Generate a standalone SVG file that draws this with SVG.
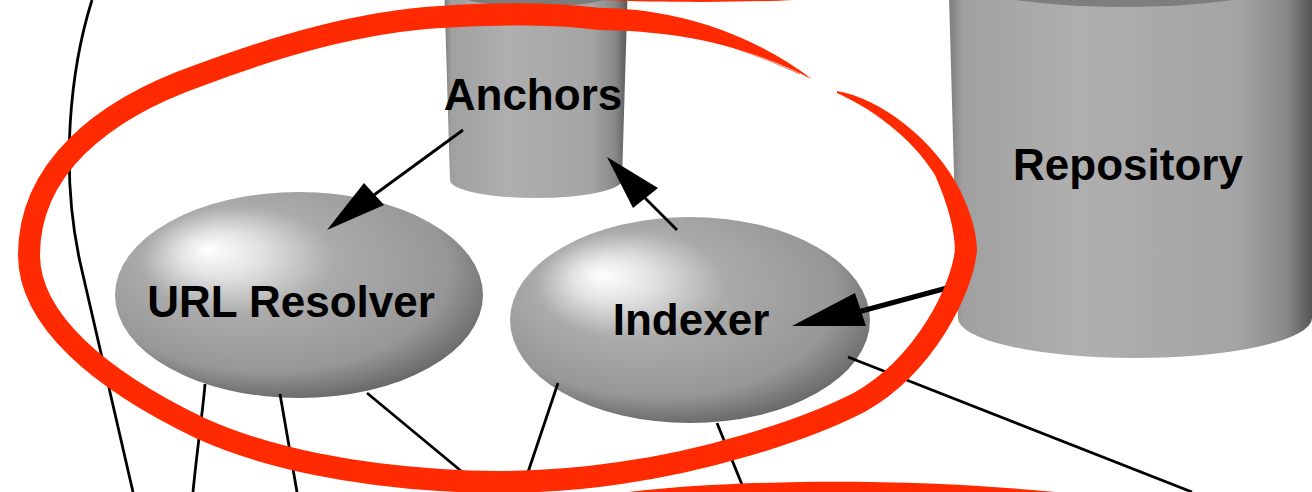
<svg xmlns="http://www.w3.org/2000/svg" width="1312" height="492" viewBox="0 0 1312 492">
<style>
.lbl{font-family:"Liberation Sans",Arial,Helvetica,sans-serif;font-weight:bold;font-size:44px;fill:#000;text-anchor:middle}
.ln{fill:none;stroke:#000;stroke-width:2.8}
.thick{fill:none;stroke:#000;stroke-width:5}
.head{fill:#000}
.red{fill:none;stroke:#ff2a00;stroke-width:22}
.redf{fill:#ff2a00}
</style>
<defs>
<radialGradient id="sph" cx="0.45" cy="0.4" r="0.62" fx="0.25" fy="0.28">
<stop offset="0" stop-color="#ffffff"/>
<stop offset="0.18" stop-color="#e2e2e2"/>
<stop offset="0.42" stop-color="#ababab"/>
<stop offset="0.8" stop-color="#979797"/>
<stop offset="1" stop-color="#666666"/>
</radialGradient>
<linearGradient id="cyl" x1="0" y1="0" x2="1" y2="0">
<stop offset="0" stop-color="#7a7a7a"/>
<stop offset="0.04" stop-color="#a0a0a0"/>
<stop offset="0.35" stop-color="#afafaf"/>
<stop offset="0.8" stop-color="#a4a4a4"/>
<stop offset="0.93" stop-color="#888888"/>
<stop offset="1" stop-color="#565656"/>
</linearGradient>
</defs>
<rect width="1312" height="492" fill="#fff"/>
<g id="anchors">
<path d="M444,-20 L628,-20 L622,180 A86,18 0 0 1 450,180 Z" fill="url(#cyl)"/>
<ellipse cx="536" cy="-12" rx="88" ry="19" fill="#7c7c7c"/>
<text class="lbl" x="533" y="110" font-size="43">Anchors</text>
</g>
<g id="repository">
<path d="M948,-40 L1312,-40 L1312,318 A177,40 0 0 1 958,318 Z" fill="url(#cyl)"/>
<ellipse cx="1124" cy="-29" rx="182" ry="36" fill="#7e7e7e"/>
<text class="lbl" x="1128" y="180">Repository</text>
</g>
<g id="url-resolver">
<ellipse cx="299" cy="295" rx="184" ry="103" fill="url(#sph)"/>
<text class="lbl" x="291" y="317">URL Resolver</text>
</g>
<g id="indexer">
<ellipse cx="690" cy="320" rx="180" ry="103" fill="url(#sph)"/>
<text class="lbl" x="691" y="335">Indexer</text>
</g>
<g id="connectors">
<path class="ln" d="M92,0 C70,70 60,170 80,262 L133,492"/>
<path class="ln" d="M205,384 C203,410 197,450 193,492"/>
<path class="ln" d="M280,394 L297,492"/>
<path class="ln" d="M367,393 L472,480"/>
<path class="ln" d="M558,383 L522,490"/>
<path class="ln" d="M717,423 L745,492" stroke-width="4.5"/>
<path class="ln" d="M848,357 L1192,492"/>
<path class="ln" d="M463,130 L374,195"/>
<polygon class="head" points="327,230 364,183 384,205"/>
<path class="ln" d="M677,230 L645,198"/>
<polygon class="head" points="607,157 658,188 633,208"/>
<path class="thick" d="M947,288 L858,312"/>
<polygon class="head" points="792,326 855,293 866,326"/>
</g>
<g id="annotation">
<path class="red" d="M966,250 C962,290 925,365 860,402 C800,433 700,462 620,473 C560,482 500,484 440,480 C360,475 270,460 200,428 C100,380 29,320 29,255 C29,170 100,110 200,75 C280,45 360,22 440,17 C500,13 560,14 600,19"/>
<path class="redf" d="M837,91 C880,98 935,140 960,190 C972,215 977,235 977,252 L955,252 C955,230 948,205 935,175 C910,135 870,108 837,93 Z"/>
<path class="redf" d="M599,8 C660,8 740,25 812,79 C740,42 670,31 599,30 Z"/>
<path d="M640,22 C700,28 760,50 808,77 M650,30 C710,36 760,56 800,74" fill="none" stroke="#ff2a00" stroke-width="1" opacity="0.7"/>
<path class="redf" d="M603,0 L795,0 C740,2.5 660,2.5 603,0 Z"/>
<path class="redf" d="M628,492 C680,486 740,483 800,482 C900,481 980,485 1055,492 Z"/>
</g>
</svg>
